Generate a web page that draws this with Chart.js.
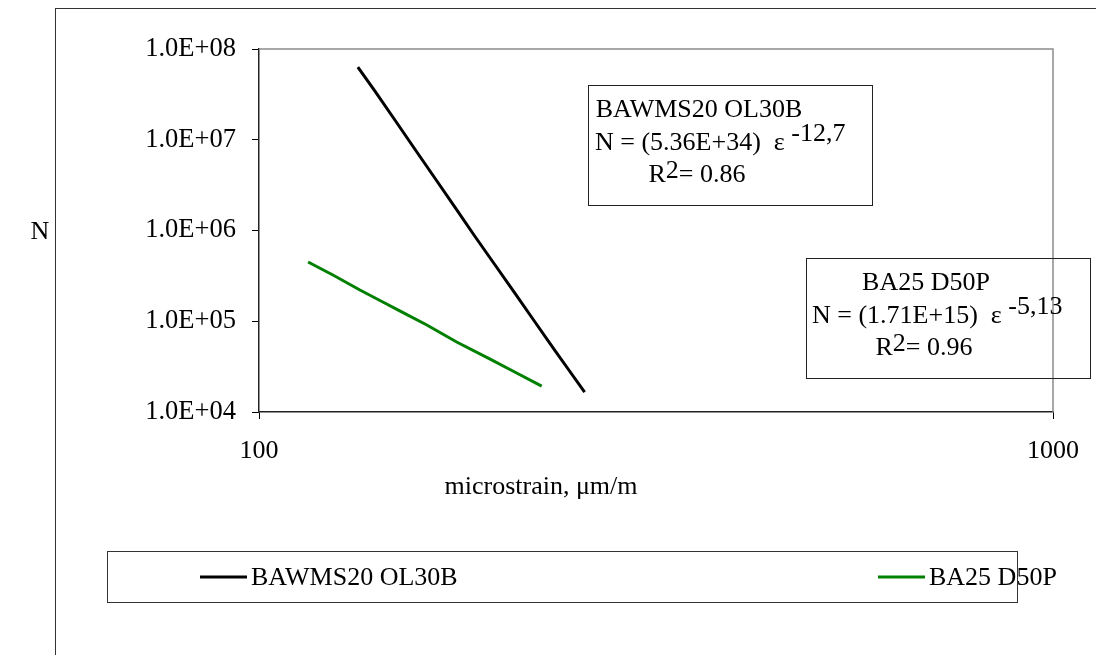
<!DOCTYPE html>
<html>
<head>
<meta charset="utf-8">
<script src="https://cdn.jsdelivr.net/npm/chart.js@4.4.1/dist/chart.umd.min.js"></script>
<style>
  html, body { margin: 0; padding: 0; background: #ffffff; }
  #wrap { width: 1096px; height: 655px; }
</style>
</head>
<body>
<div id="wrap"><canvas id="fatigue" width="1096" height="655"></canvas></div>
<script>
// Fatigue lines: cycles to failure N against tensile microstrain (log-log)
const seriesNames = ['BAWMS20 OL30B', 'BA25 D50P'];
const seriesColors = ['#000000', '#008000'];

const strainA = [133.2, 139.9, 148.3, 157.1, 166.5, 176.4, 186.9, 198.1, 209.9, 222.4, 235.7, 246.1, 257.1];
const cyclesA = [6.33e7, 3.45e7, 1.65e7, 7.91e6, 3.79e6, 1.82e6, 8.70e5, 4.22e5, 2.05e5, 9.94e4, 4.82e4, 2.83e4, 1.66e4];

const strainB = [115.3, 123.9, 134.0, 143.2, 150.4, 162.7, 177.4, 195.2, 211.1, 227.0];
const cyclesB = [4.50e5, 3.23e5, 2.21e5, 1.63e5, 1.30e5, 9.09e4, 5.91e4, 3.85e4, 2.69e4, 1.93e4];

const xTicks = [100, 1000];
const yTicks = [1e4, 1e5, 1e6, 1e7, 1e8];

const xTitle = 'microstrain, \u03bcm/m';
const yTitle = 'N';

// Regression equations shown in the text boxes
const fitTitles = ['BAWMS20 OL30B', 'BA25 D50P'];
const fitCoefs = ['5.36E+34', '1.71E+15'];
const fitExps = ['-12,7', '-5,13'];
const fitR2 = ['0.86', '0.96'];

const FONT = '"Liberation Serif", "Times New Roman", serif';

function sciLabel(v) {
  const e = Math.round(Math.log10(v));
  const m = v / Math.pow(10, e);
  return m.toFixed(1) + 'E+' + String(e).padStart(2, '0');
}

function toPoints(xs, ys) {
  return xs.map((x, i) => ({ x: x, y: ys[i] }));
}

// Draws a line made of text runs; "up" raises a run (superscript)
function drawRuns(ctx, runs, x, y, align) {
  ctx.font = '26px ' + FONT;
  let w = 0;
  runs.forEach(r => { w += ctx.measureText(r.t).width; });
  let cx = align === 'center' ? x - w / 2 : x;
  ctx.textAlign = 'left';
  ctx.textBaseline = 'middle';
  runs.forEach(r => {
    ctx.fillText(r.t, cx, y - (r.up || 0));
    cx += ctx.measureText(r.t).width;
  });
}

const decor = {
  id: 'decor',
  beforeDraw(chart) {
    const ctx = chart.ctx;
    ctx.save();
    ctx.fillStyle = '#ffffff';
    ctx.fillRect(0, 0, chart.width, chart.height);
    ctx.restore();
  },
  beforeDatasetsDraw(chart) {
    const { ctx, chartArea: a } = chart;
    ctx.save();
    ctx.strokeStyle = '#8c8c8c';
    ctx.lineWidth = 1.5;
    ctx.beginPath();
    ctx.moveTo(a.left, a.top);
    ctx.lineTo(a.right, a.top);
    ctx.lineTo(a.right, a.bottom);
    ctx.stroke();
    ctx.restore();
  },
  afterDraw(chart) {
    const ctx = chart.ctx;
    ctx.save();

    // outer frame of the chart object
    ctx.strokeStyle = '#333333';
    ctx.lineWidth = 1;
    ctx.strokeRect(55.5, 8.5, 1100, 700);

    // axis titles
    ctx.fillStyle = '#000000';
    ctx.font = '26px ' + FONT;
    ctx.textAlign = 'center';
    ctx.textBaseline = 'middle';
    ctx.fillText(xTitle, 541, 487);
    ctx.fillText(yTitle, 40, 232);

    // regression text boxes
    const boxes = [
      { l: 588, t: 85, w: 284, h: 120, title: 699, eq: 595 },
      { l: 806, t: 258, w: 284, h: 120, title: 926, eq: 812 }
    ];
    boxes.forEach((b, i) => {
      ctx.strokeStyle = '#222222';
      ctx.lineWidth = 1;
      ctx.strokeRect(b.l + 0.5, b.t + 0.5, b.w, b.h);
      ctx.fillStyle = '#000000';
      drawRuns(ctx, [{ t: fitTitles[i] }], b.title, b.t + 25, 'center');
      drawRuns(ctx, [{ t: 'N = (' + fitCoefs[i] + ')  \u03b5 ' }, { t: fitExps[i], up: 9 }], b.eq, b.t + 58, 'left');
      drawRuns(ctx, [{ t: 'R' }, { t: '2', up: 4 }, { t: '= ' + fitR2[i] }], b.title - 2, b.t + 90, 'center');
    });

    // legend
    ctx.strokeStyle = '#333333';
    ctx.lineWidth = 1;
    ctx.strokeRect(107.5, 551.5, 910, 51);
    const legendX = [200, 878];
    chart.data.datasets.forEach((ds, i) => {
      ctx.strokeStyle = ds.borderColor;
      ctx.lineWidth = 3;
      ctx.beginPath();
      ctx.moveTo(legendX[i], 577);
      ctx.lineTo(legendX[i] + 47, 577);
      ctx.stroke();
      ctx.fillStyle = '#000000';
      ctx.font = '26px ' + FONT;
      ctx.textAlign = 'left';
      ctx.textBaseline = 'middle';
      ctx.fillText(ds.label, legendX[i] + 51, 578);
    });

    ctx.restore();
  }
};

const fixedTicks = (values) => function (scale) {
  scale.ticks = values.map(v => ({ value: v }));
};

new Chart(document.getElementById('fatigue'), {
  type: 'scatter',
  data: {
    datasets: [
      {
        label: seriesNames[0],
        data: toPoints(strainA, cyclesA),
        showLine: true,
        borderColor: seriesColors[0],
        backgroundColor: seriesColors[0],
        borderWidth: 3,
        pointRadius: 0,
        tension: 0
      },
      {
        label: seriesNames[1],
        data: toPoints(strainB, cyclesB),
        showLine: true,
        borderColor: seriesColors[1],
        backgroundColor: seriesColors[1],
        borderWidth: 3,
        pointRadius: 0,
        tension: 0
      }
    ]
  },
  options: {
    responsive: false,
    animation: false,
    devicePixelRatio: 1,
    layout: { padding: { left: 0, top: 49, right: 42, bottom: 0 } },
    plugins: {
      legend: { display: false },
      tooltip: { enabled: false }
    },
    scales: {
      x: {
        type: 'logarithmic',
        position: 'bottom',
        min: 100,
        max: 1000,
        afterBuildTicks: fixedTicks(xTicks),
        afterFit(scale) { scale.height = 243; },
        grid: { display: true, drawOnChartArea: false, drawTicks: true, tickLength: 7, color: '#000000', lineWidth: 1 },
        border: { display: true, color: '#222222', width: 1.5 },
        ticks: {
          color: '#000000',
          padding: 17,
          maxRotation: 0,
          font: { family: FONT, size: 26 },
          callback: (v) => String(v)
        }
      },
      y: {
        type: 'logarithmic',
        position: 'left',
        min: 1e4,
        max: 1e8,
        afterBuildTicks: fixedTicks(yTicks),
        afterFit(scale) { scale.width = 259; },
        grid: { display: true, drawOnChartArea: false, drawTicks: true, tickLength: 7, color: '#000000', lineWidth: 1 },
        border: { display: true, color: '#222222', width: 1.5 },
        ticks: {
          color: '#000000',
          padding: 16,
          font: { family: FONT, size: 26.5 },
          callback: (v) => sciLabel(v)
        }
      }
    }
  },
  plugins: [decor]
});
</script>
</body>
</html>
